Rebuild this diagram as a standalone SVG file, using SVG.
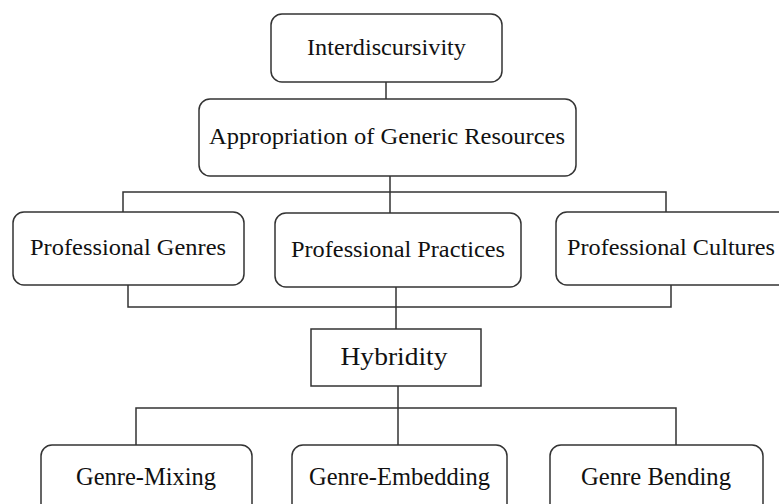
<svg xmlns="http://www.w3.org/2000/svg" width="779" height="504" viewBox="0 0 779 504">
<style>
.box{fill:#fff;stroke:#333;stroke-width:1.5}
.t{font-family:"Liberation Serif","Times New Roman",serif;font-size:24px;fill:#111;text-anchor:middle}
.c{font-family:"Liberation Serif","Times New Roman",serif;font-size:26px;fill:#111;text-anchor:middle}
.ln{fill:none;stroke:#333;stroke-width:1.5}
</style>
<rect width="779" height="504" fill="#fff"/>
<g id="connectors">
<path class="ln" d="M386,82 V99"/>
<path class="ln" d="M390,176 V192 M123,213 V192 H666 V213 M390,192 V213"/>
<path class="ln" d="M128,285 V307 H671 V285 M396,287 V329"/>
<path class="ln" d="M398,386 V445 M136,445 V408 H676 V445"/>
</g>
<g id="interdiscursivity">
<rect class="box" x="271" y="14" width="231" height="68" rx="11"/>
<text class="t" x="386.5" y="55" textLength="159" lengthAdjust="spacingAndGlyphs">Interdiscursivity</text>
</g>
<g id="appropriation">
<rect class="box" x="199" y="99" width="377" height="77" rx="11"/>
<text class="t" x="387" y="144" textLength="356" lengthAdjust="spacingAndGlyphs">Appropriation of Generic Resources</text>
</g>
<g id="genres">
<rect class="box" x="13" y="212" width="231" height="73" rx="11"/>
<text class="t" x="128" y="255" textLength="196" lengthAdjust="spacingAndGlyphs">Professional Genres</text>
</g>
<g id="practices">
<rect class="box" x="275" y="213" width="246" height="74" rx="11"/>
<text class="t" x="398" y="257" textLength="214" lengthAdjust="spacingAndGlyphs">Professional Practices</text>
</g>
<g id="cultures">
<rect class="box" x="556" y="212" width="235" height="73" rx="11"/>
<text class="t" x="671" y="255" textLength="208" lengthAdjust="spacingAndGlyphs">Professional Cultures</text>
</g>
<g id="hybridity">
<rect class="box" x="311" y="329" width="170" height="57"/>
<text class="c" x="394" y="365" textLength="107" lengthAdjust="spacingAndGlyphs">Hybridity</text>
</g>
<g id="mixing">
<rect class="box" x="41" y="445" width="211" height="75" rx="11"/>
<text class="c" x="146" y="485" textLength="140" lengthAdjust="spacingAndGlyphs">Genre-Mixing</text>
</g>
<g id="embedding">
<rect class="box" x="292" y="445" width="215" height="75" rx="11"/>
<text class="c" x="399.5" y="485" textLength="181" lengthAdjust="spacingAndGlyphs">Genre-Embedding</text>
</g>
<g id="bending">
<rect class="box" x="550" y="445" width="213" height="75" rx="11"/>
<text class="c" x="656" y="485" textLength="150" lengthAdjust="spacingAndGlyphs">Genre Bending</text>
</g>
</svg>
